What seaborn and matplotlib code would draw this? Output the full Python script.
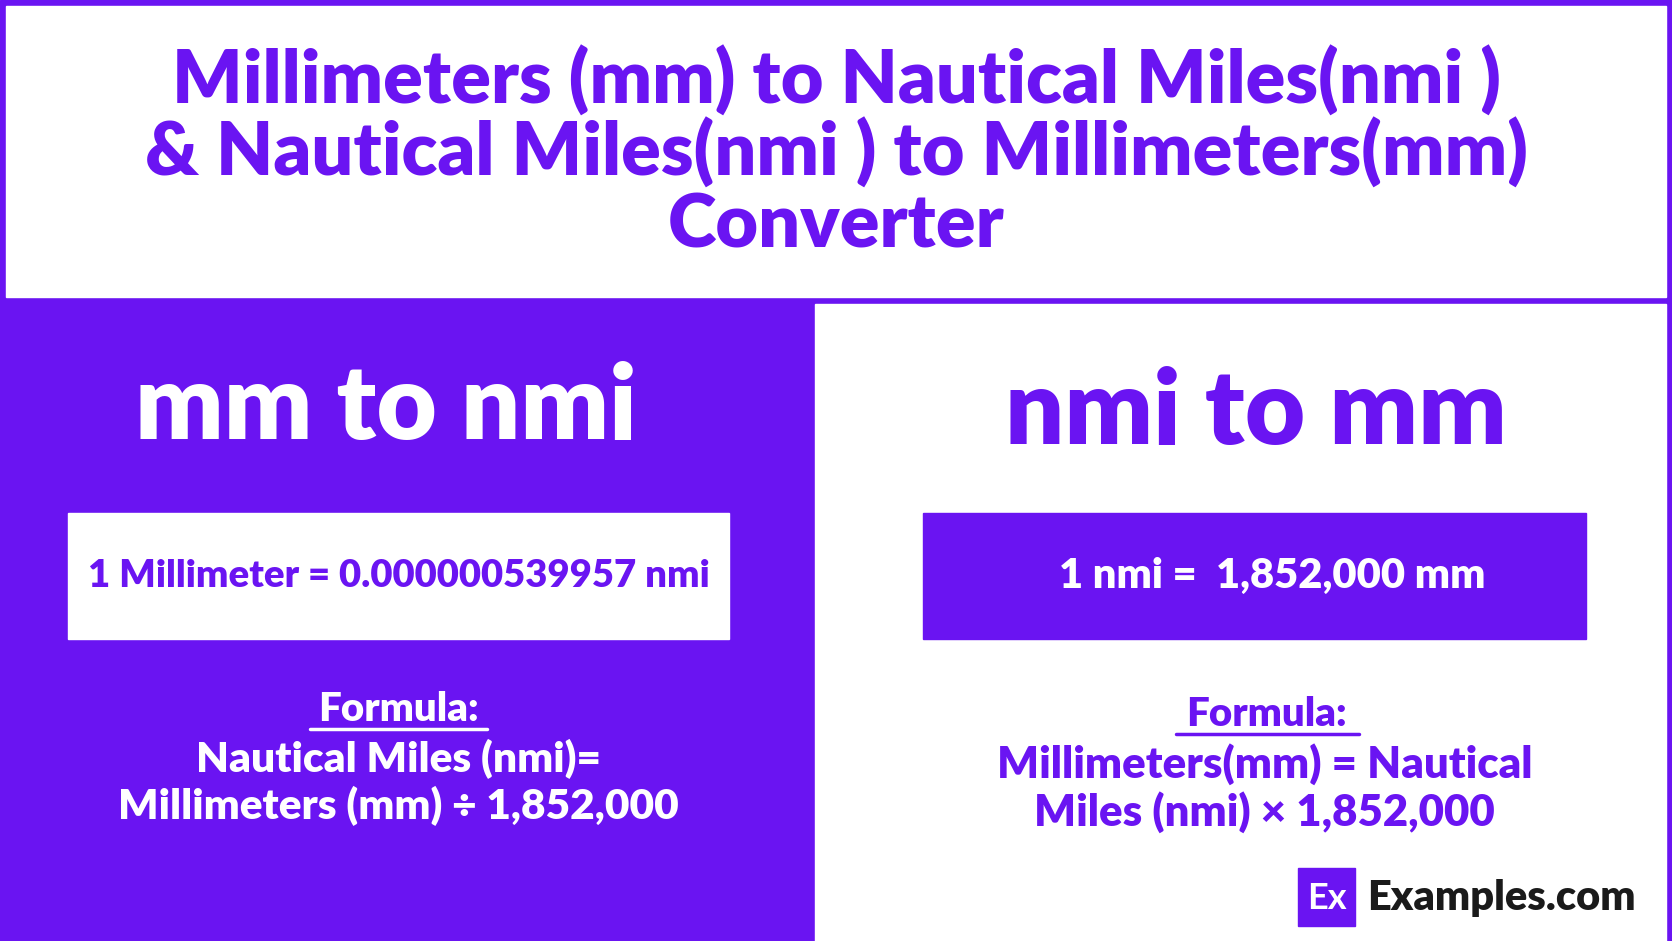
import matplotlib.pyplot as plt
import matplotlib.patches as patches
import seaborn as sns

sns.set_theme(style="white")
plt.rcParams['font.family'] = ['Lato', 'DejaVu Sans']

PURPLE = "#6A14F2"

title_lines = ["Millimeters (mm) to Nautical Miles(nmi )",
               "& Nautical Miles(nmi ) to Millimeters(mm)",
               "Converter"]
panel_heads = ["mm to nmi", "nmi to mm"]
panel_rates = ["1 Millimeter = 0.000000539957 nmi", "1 nmi =  1,852,000 mm"]
formula_left = ["Nautical Miles (nmi)=", "Millimeters (mm) \u00f7 1,852,000"]
formula_right = ["Millimeters(mm) = Nautical", "Miles (nmi) \u00d7 1,852,000"]

fig = plt.figure(figsize=(16.72, 9.41), dpi=100)
ax = fig.add_axes([0, 0, 1, 1])
ax.set_xlim(0, 1568)
ax.set_ylim(882, 0)
ax.axis("off")

# background frame
ax.add_patch(patches.Rectangle((0, 0), 1568, 882, color=PURPLE))
ax.add_patch(patches.Rectangle((6, 6), 1556, 272, color="white"))
ax.add_patch(patches.Rectangle((764, 285), 798, 600, color="white"))

# title
for i, line in enumerate(title_lines):
    ax.text(784, 76 + i * 68, line, ha="center", va="center", fontsize=53,
            fontweight="heavy", color=PURPLE)

# panel headings
ax.text(362, 383, panel_heads[0], ha="center", va="center", fontsize=75,
        fontweight="heavy", color="white")
ax.text(1178, 388, panel_heads[1], ha="center", va="center", fontsize=75,
        fontweight="heavy", color=PURPLE)

# rate boxes
ax.add_patch(patches.Rectangle((64, 481), 620, 118, color="white"))
ax.text(374, 540, panel_rates[0], ha="center", va="center", fontsize=27.5,
        fontweight="heavy", color=PURPLE)
ax.add_patch(patches.Rectangle((866, 481), 621, 118, color=PURPLE))
ax.text(1193, 540, panel_rates[1], ha="center", va="center", fontsize=30,
        fontweight="heavy", color="white")

# formulas
ax.text(374, 665, "Formula:", ha="center", va="center", fontsize=29,
        fontweight="heavy", color="white")
ax.plot([291, 457], [683, 683], color="white", lw=2.5)
for i, line in enumerate(formula_left):
    ax.text(374, 711 + i * 44, line, ha="center", va="center", fontsize=30.5,
            fontweight="heavy", color="white")

ax.text(1188, 670, "Formula:", ha="center", va="center", fontsize=29,
        fontweight="heavy", color=PURPLE)
ax.plot([1103, 1274], [688, 688], color=PURPLE, lw=2.5)
for i, line in enumerate(formula_right):
    ax.text(1186, 716 + i * 45, line, ha="center", va="center", fontsize=31.5,
            fontweight="heavy", color=PURPLE)

# logo
ax.add_patch(patches.Rectangle((1217, 814), 54, 54, color=PURPLE))
ax.text(1244, 842, "Ex", ha="center", va="center", fontsize=26,
        fontweight="bold", color="white")
ax.text(1282, 842, "Examples.com", ha="left", va="center", fontsize=30,
        fontweight="heavy", color="#1a1a1a")

fig.savefig("out.png", dpi=100)
